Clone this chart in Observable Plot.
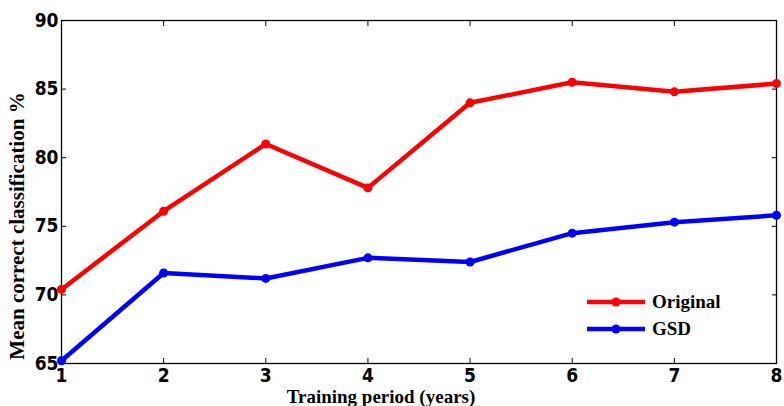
<!DOCTYPE html>
<html>
<head>
<meta charset="utf-8">
<script src="https://cdn.jsdelivr.net/npm/d3@7"></script>
<script src="https://cdn.jsdelivr.net/npm/@observablehq/plot@0.6"></script>
<style>
  html, body { margin: 0; padding: 0; background: #fff; }
  #wrap { position: relative; width: 784px; height: 406px; overflow: hidden; }
  .lab { position: absolute; font-family: "Liberation Serif", "Times New Roman", serif; font-weight: bold; color: #000; white-space: nowrap; line-height: 1; }
  .leg { position: absolute; font-family: "Liberation Serif", serif; font-weight: bold; font-size: 19px; color: #000; display: flex; align-items: center; }
</style>
</head>
<body>
<div id="wrap"></div>
<script>
const years = [1, 2, 3, 4, 5, 6, 7, 8];
const original = [70.4, 76.1, 81.0, 77.8, 84.0, 85.5, 84.8, 85.4];
const gsd = [65.2, 71.6, 71.2, 72.7, 72.4, 74.5, 75.3, 75.8];
const seriesNames = ["Original", "GSD"];
const seriesColors = ["#ff0000", "#0000ff"];
const xTicks = [1, 2, 3, 4, 5, 6, 7, 8];
const yTicks = [65, 70, 75, 80, 85, 90];
const xLabel = "Training period (years)";
const yLabel = "Mean correct classification %";

const rows = [];
years.forEach((y, i) => {
  rows.push({year: y, value: original[i], series: seriesNames[0]});
  rows.push({year: y, value: gsd[i], series: seriesNames[1]});
});

const tickFont = {fontSize: 19, fontWeight: "bold", fontFamily: "'DejaVu Sans Condensed', 'DejaVu Sans', sans-serif"};

const chart = Plot.plot({
  width: 784,
  height: 406,
  marginLeft: 61,
  marginRight: 8,
  marginTop: 20,
  marginBottom: 43,
  style: {background: "white", overflow: "visible"},
  x: {domain: [1, 8]},
  y: {domain: [65, 90]},
  color: {domain: seriesNames, range: seriesColors},
  marks: [
    Plot.axisX({ticks: xTicks, tickSize: 0, tickPadding: 5, label: null, tickFormat: d3.format("d"), ...tickFont}),
    Plot.axisX({ticks: xTicks, anchor: "bottom", tickSize: -5, tickFormat: () => "", label: null}),
    Plot.axisX({ticks: xTicks, anchor: "top", tickSize: -5, tickFormat: () => "", label: null}),
    Plot.axisY({ticks: yTicks, tickSize: 0, tickPadding: 3, label: null, ...tickFont}),
    Plot.axisY({ticks: yTicks, anchor: "left", tickSize: -5, tickFormat: () => "", label: null}),
    Plot.axisY({ticks: yTicks, anchor: "right", tickSize: -5, tickFormat: () => "", label: null}),
    Plot.frame({stroke: "black", strokeWidth: 1.3}),
    Plot.line(rows, {x: "year", y: "value", z: "series", stroke: "series", strokeWidth: 4.5, strokeLinejoin: "round"}),
    Plot.dot(rows, {x: "year", y: "value", fill: "series", r: 4.5})
  ]
});

const wrap = document.getElementById("wrap");
wrap.appendChild(chart);

const xl = document.createElement("div");
xl.className = "lab";
xl.style.fontSize = "19px";
xl.textContent = xLabel;
xl.style.left = "381px";
xl.style.top = "387px";
xl.style.transform = "translateX(-50%)";
wrap.appendChild(xl);

const yl = document.createElement("div");
yl.className = "lab";
yl.style.fontSize = "21px";
yl.textContent = yLabel;
yl.style.left = "17px";
yl.style.top = "226px";
yl.style.transform = "translate(-50%, -50%) rotate(-90deg)";
wrap.appendChild(yl);

const legTop = [302, 329];
seriesNames.forEach((name, i) => {
  const d = document.createElement("div");
  d.className = "leg";
  d.style.left = "587px";
  d.style.top = (legTop[i] - 12) + "px";
  d.style.height = "24px";
  const c = seriesColors[i];
  d.innerHTML = `<svg width="58" height="12" style="margin-right:7px"><line x1="0" x2="58" y1="6" y2="6" stroke="${c}" stroke-width="4.5"/><circle cx="29" cy="6" r="4.5" fill="${c}"/></svg><span>${name}</span>`;
  wrap.appendChild(d);
});
</script>
</body>
</html>
